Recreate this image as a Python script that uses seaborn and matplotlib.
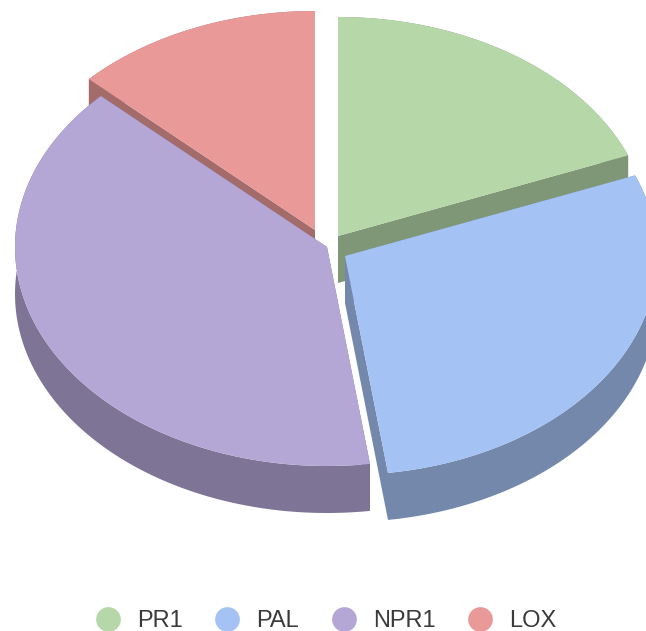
import numpy as np
import matplotlib
matplotlib.use("Agg")
import matplotlib.pyplot as plt
from matplotlib.lines import Line2D
from matplotlib.colors import to_rgb
import seaborn as sns

categories = ["PR1", "PAL", "NPR1", "LOX"]
values = [19.0, 28.8, 39.3, 12.9]
colors = ["#b6d7a8", "#a4c2f4", "#b4a7d6", "#ea9999"]

# layout (pixels in the 646x631 canvas)
apex = {"PR1": (338, 236), "PAL": (345, 256), "NPR1": (327, 247), "LOX": (315, 230)}
rx, ry, depth = 312, 219, 47
draw_order = ["LOX", "PR1", "NPR1", "PAL"]

sns.set_theme(style="white")
plt.rcParams["font.family"] = ["Liberation Sans", "DejaVu Sans"]

fig = plt.figure(figsize=(6.46, 6.31), dpi=100, facecolor="white")
ax = fig.add_axes([0, 0, 1, 1])
ax.set_xlim(0, 646)
ax.set_ylim(631, 0)
ax.axis("off")

palette = dict(zip(categories, sns.color_palette(colors)))
shares = np.array(values) / np.sum(values) * 360
ends = 90 - np.cumsum(shares)
starts = ends + shares
angles = {c: (s, e) for c, s, e in zip(categories, starts, ends)}


def arc(cat, dy=0):
    x0, y0 = apex[cat]
    t = np.radians(np.linspace(angles[cat][0], angles[cat][1], 200))
    return x0 + rx * np.cos(t), y0 - ry * np.sin(t) + dy


for cat in draw_order:
    x0, y0 = apex[cat]
    top = palette[cat]
    dark = tuple(0.7 * v for v in to_rgb(top))
    ax_, ay_ = arc(cat)
    bx_, by_ = arc(cat, depth)
    # radial walls
    for i in (0, -1):
        ax.fill([x0, ax_[i], bx_[i], x0], [y0, ay_[i], by_[i], y0 + depth],
                color=dark, lw=0, zorder=1)
    # outer wall
    ax.fill(np.r_[ax_, bx_[::-1]], np.r_[ay_, by_[::-1]], color=dark, lw=0, zorder=1)
    # top face
    ax.fill(np.r_[x0, ax_], np.r_[y0, ay_], color=top, lw=0, zorder=1)

handles = [Line2D([], [], ls="none", marker="o", ms=17.8, mew=0, color=palette[c])
           for c in categories]
ax.legend(handles, categories, ncol=4, frameon=False, loc="center",
          bbox_to_anchor=(326, 621), bbox_transform=ax.transData,
          fontsize=17, labelcolor="#3a3a3a", handlelength=1.04,
          handletextpad=0.72, columnspacing=1.365, borderpad=0, borderaxespad=0)

fig.savefig("out.png", dpi=100, facecolor="white")
